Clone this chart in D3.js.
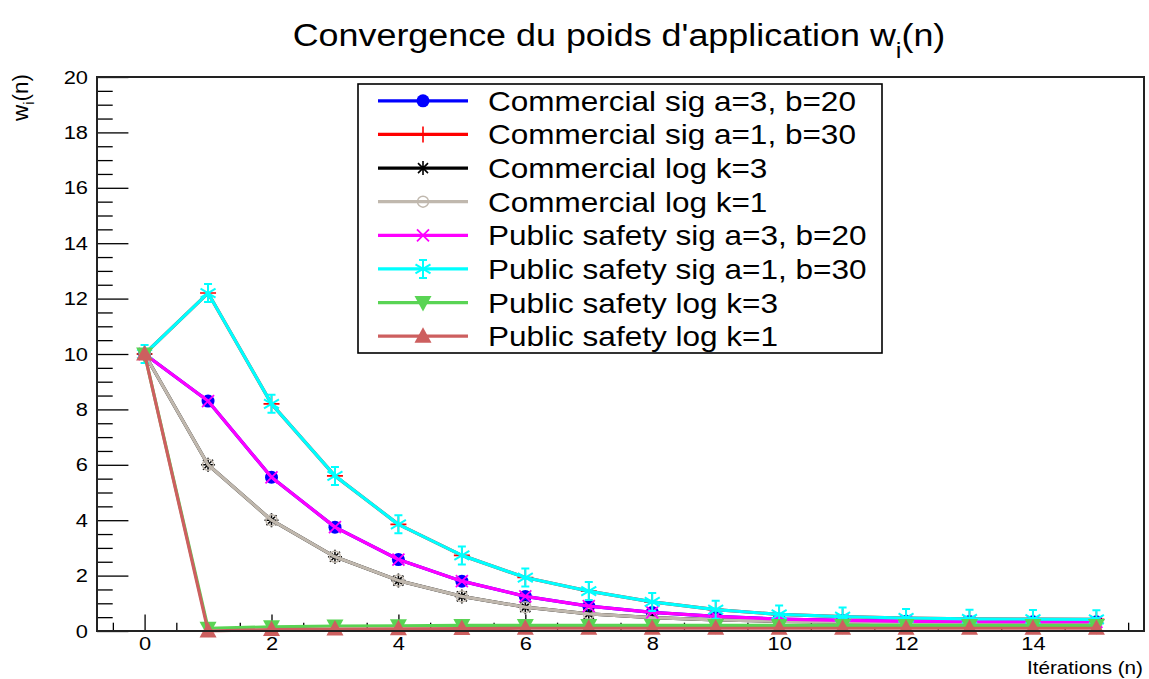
<!DOCTYPE html>
<html><head><meta charset="utf-8">
<script src="https://cdn.jsdelivr.net/npm/d3@7"></script>
<style>
body{margin:0;background:#fff}
text{font-family:"Liberation Sans",Arial,Helvetica,sans-serif;fill:#000}
</style>
</head><body>
<svg id="chart" width="1149" height="679"></svg>
<script>
// ---------------- data ----------------
const iterations = [0,1,2,3,4,5,6,7,8,9,10,11,12,13,14,15];
const commercialSigA3B20   = [10, 8.3, 5.55, 3.75, 2.58, 1.8, 1.25, 0.9, 0.67, 0.53, 0.43, 0.38, 0.35, 0.34, 0.33, 0.33];
const commercialSigA1B30   = [10, 12.2, 8.2, 5.6, 3.85, 2.73, 1.93, 1.44, 1.05, 0.77, 0.6, 0.52, 0.47, 0.44, 0.43, 0.42];
const commercialLogK3      = [10, 6.0, 4.0, 2.68, 1.82, 1.25, 0.86, 0.62, 0.48, 0.4, 0.35, 0.32, 0.3, 0.29, 0.28, 0.28];
const commercialLogK1      = [10, 6.0, 4.0, 2.68, 1.82, 1.25, 0.86, 0.62, 0.48, 0.4, 0.35, 0.32, 0.3, 0.29, 0.28, 0.28];
const publicSigA3B20       = [10, 8.3, 5.55, 3.75, 2.58, 1.8, 1.25, 0.9, 0.67, 0.53, 0.43, 0.38, 0.35, 0.34, 0.33, 0.33];
const publicSigA1B30       = [10, 12.2, 8.2, 5.6, 3.85, 2.73, 1.93, 1.44, 1.05, 0.77, 0.6, 0.52, 0.47, 0.44, 0.43, 0.42];
const publicLogK3          = [10, 0.1, 0.15, 0.18, 0.19, 0.2, 0.2, 0.2, 0.2, 0.2, 0.2, 0.2, 0.2, 0.2, 0.2, 0.2];
const publicLogK1          = [10, 0.0, 0.05, 0.07, 0.08, 0.09, 0.1, 0.1, 0.1, 0.1, 0.1, 0.1, 0.1, 0.1, 0.1, 0.1];

const seriesNames = [
  "Commercial sig a=3, b=20",
  "Commercial sig a=1, b=30",
  "Commercial log k=3",
  "Commercial log k=1",
  "Public safety sig a=3, b=20",
  "Public safety sig a=1, b=30",
  "Public safety log k=3",
  "Public safety log k=1"
];
const seriesValues = [commercialSigA3B20, commercialSigA1B30, commercialLogK3, commercialLogK1,
                      publicSigA3B20, publicSigA1B30, publicLogK3, publicLogK1];
const seriesColors = ["#0000ff","#ff0000","#000000","#c0b8ae","#ff00ff","#00ffff","#59d454","#cd5f5f"];
const seriesMarkers = ["circle","plus","star","opencircle","cross","snow","tridown","triup"];

const xMajorTicks = [0,2,4,6,8,10,12,14];
const yMajorTicks = [0,2,4,6,8,10,12,14,16,18,20];

const titleMain = "Convergence du poids d'application w";
const titleSub = "i";
const titleEnd = "(n)";
const xTitle = "Itérations (n)";

// ---------------- layout ----------------
const W = 1149, H = 679;
const fr = {left: 97, right: 1144, top: 77, bottom: 631};
const SX = 1.15; // horizontal stretch of the original rendering

const svg = d3.select("#chart");
svg.append("rect").attr("width", W).attr("height", H).attr("fill", "#fff");

const x = d3.scaleLinear().domain([-0.75, 15.75]).range([fr.left, fr.right]);
const y = d3.scaleLinear().domain([0, 20]).range([fr.bottom, fr.top]);

function stext(g, px, py, str, size, anchor, sx) {
  return g.append("text")
    .attr("transform", `translate(${px},${py}) scale(${sx},1)`)
    .attr("font-size", size)
    .attr("text-anchor", anchor)
    .text(str);
}

// frame background
svg.append("rect").attr("x", fr.left).attr("y", fr.top)
  .attr("width", fr.right - fr.left).attr("height", fr.bottom - fr.top)
  .attr("fill", "#fff");

// minor ticks
const xMinor = d3.range(-0.5, 15.75, 0.5).filter(v => Math.abs(v % 2) > 1e-9);
const yMinor = d3.range(0, 20.01, 0.5).filter(v => Math.abs(v % 2) > 1e-9);

const xLen = (fr.bottom - fr.top) * 0.03;
const yLen = (fr.right - fr.left) * 0.03;

const gx = svg.append("g").attr("transform", `translate(0,${fr.bottom})`);
gx.call(d3.axisBottom(x).tickValues(xMajorTicks).tickSize(-xLen).tickSizeOuter(0).tickPadding(6)
  .tickFormat(d3.format("d")));
const gxm = svg.append("g").attr("transform", `translate(0,${fr.bottom})`);
gxm.call(d3.axisBottom(x).tickValues(xMinor).tickSize(-xLen / 2).tickSizeOuter(0).tickFormat(""));

const gy = svg.append("g").attr("transform", `translate(${fr.left},0)`);
gy.call(d3.axisLeft(y).tickValues(yMajorTicks).tickSize(-yLen).tickSizeOuter(0).tickPadding(9)
  .tickFormat(d3.format("d")));
const gym = svg.append("g").attr("transform", `translate(${fr.left},0)`);
gym.call(d3.axisLeft(y).tickValues(yMinor).tickSize(-yLen / 2).tickSizeOuter(0).tickFormat(""));

[gx, gxm, gy, gym].forEach(g => {
  g.select(".domain").remove();
  g.selectAll("line").attr("stroke", "#000").attr("stroke-width", 1.3);
});
gx.selectAll("text").attr("font-size", 19).attr("font-family", null)
  .attr("transform", `scale(${SX},1)`);
gy.selectAll("text").attr("font-size", 19).attr("font-family", null)
  .each(function() {
    const t = d3.select(this);
    t.attr("x", +t.attr("x") / SX).attr("transform", `scale(${SX},1)`);
  });

// ---------------- markers ----------------
function drawMarker(g, type, color, cx, cy) {
  const m = g.append("g").attr("transform", `translate(${cx},${cy})`);
  switch (type) {
    case "circle":
      m.append("circle").attr("r", 6.5).attr("fill", color);
      break;
    case "opencircle":
      m.append("circle").attr("r", 5.5).attr("fill", "none").attr("stroke", color).attr("stroke-width", 1.5);
      break;
    case "plus":
      m.append("path").attr("d", "M-8,0H8M0,-8V8").attr("stroke", color).attr("stroke-width", 1.6);
      break;
    case "cross":
      m.append("path").attr("d", "M-6,-6L6,6M-6,6L6,-6").attr("stroke", color).attr("stroke-width", 1.8);
      break;
    case "star":
      m.append("path").attr("d", "M-7,0H7M0,-7V7M-5,-5L5,5M-5,5L5,-5").attr("stroke", color).attr("stroke-width", 1.6);
      break;
    case "snow":
      m.append("path").attr("d", "M0,-9V9M-7.5,-4.5L7.5,4.5M-7.5,4.5L7.5,-4.5M-4,-9H4M-4,9H4")
        .attr("stroke", color).attr("stroke-width", 2);
      break;
    case "triup":
      m.append("path").attr("d", "M0,-9L8.5,6.5L-8.5,6.5Z").attr("fill", color);
      break;
    case "tridown":
      m.append("path").attr("d", "M0,9L8.5,-6.5L-8.5,-6.5Z").attr("fill", color);
      break;
  }
}

// ---------------- series ----------------
const line = d3.line().x((d, i) => x(iterations[i])).y(d => y(d));
const plot = svg.append("g");
seriesValues.forEach((vals, s) => {
  const g = plot.append("g");
  g.append("path").datum(vals).attr("d", line).attr("fill", "none")
    .attr("stroke", seriesColors[s]).attr("stroke-width", 3.2).attr("stroke-linejoin", "round");
  vals.forEach((v, i) => drawMarker(g, seriesMarkers[s], seriesColors[s], x(iterations[i]), y(v)));
});

// frame border
svg.append("rect").attr("x", fr.left).attr("y", fr.top)
  .attr("width", fr.right - fr.left).attr("height", fr.bottom - fr.top)
  .attr("fill", "none").attr("stroke", "#222").attr("stroke-width", 2);

// ---------------- legend ----------------
const lg = {left: 358, right: 882, top: 84, bottom: 353};
const leg = svg.append("g");
leg.append("rect").attr("x", lg.left).attr("y", lg.top)
  .attr("width", lg.right - lg.left).attr("height", lg.bottom - lg.top)
  .attr("fill", "#fff").attr("stroke", "#000").attr("stroke-width", 1.6);
const rowH = (lg.bottom - lg.top) / seriesNames.length;
let legSX = 1;
seriesNames.forEach((name, s) => {
  const cy = lg.top + rowH * (s + 0.5);
  leg.append("line").attr("x1", 378).attr("x2", 468).attr("y1", cy).attr("y2", cy)
    .attr("stroke", seriesColors[s]).attr("stroke-width", 3.2);
  drawMarker(leg, seriesMarkers[s], seriesColors[s], 423, cy);
  const t = stext(leg, 488, cy + 10, name, 27, "start", 1);
  if (s === 0) legSX = 368 / t.node().getComputedTextLength();
  t.attr("transform", `translate(488,${cy + 10}) scale(${legSX},1)`);
});

// ---------------- titles ----------------
const tt = svg.append("text").attr("font-size", 31).attr("text-anchor", "middle");
tt.append("tspan").text(titleMain);
tt.append("tspan").attr("font-size", 22).attr("dy", 12).text(titleSub);
tt.append("tspan").attr("dy", -12).text(titleEnd);
const ttw = tt.node().getComputedTextLength();
const tsx = 653 / ttw;
tt.attr("transform", `translate(619,46) scale(${tsx},1)`);

stext(svg, 1143, 674, xTitle, 18, "end", SX);

const yt = svg.append("text").attr("font-size", 18).attr("text-anchor", "end")
  .attr("transform", `translate(28,74) rotate(-90) scale(1.25,1.2)`);
yt.append("tspan").text("w");
yt.append("tspan").attr("font-size", 12).attr("dy", 5).text("i");
yt.append("tspan").attr("dy", -5).text("(n)");
</script>
</body></html>
